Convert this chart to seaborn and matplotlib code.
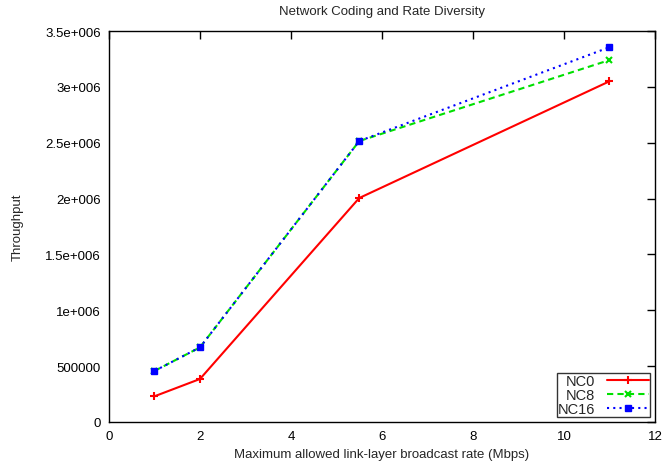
import matplotlib
matplotlib.use("Agg")
import matplotlib.pyplot as plt
import seaborn as sns
import pandas as pd

rates = [1, 2, 5.5, 11]
nc0 = [230000, 385000, 2005000, 3050000]
nc8 = [457000, 668000, 2515000, 3240000]
nc16 = [457000, 668000, 2515000, 3355000]
series_names = ["NC0", "NC8", "NC16"]
ytick_vals = [0, 500000, 1000000, 1500000, 2000000, 2500000, 3000000, 3500000]
ytick_labels = ["0", "500000", "1e+006", "1.5e+006", "2e+006", "2.5e+006", "3e+006", "3.5e+006"]
xtick_vals = [0, 2, 4, 6, 8, 10, 12]

sns.set_style("white")
plt.rcParams['font.family'] = ['Liberation Sans', 'DejaVu Sans']

fig = plt.figure(figsize=(6.67, 4.64), dpi=100)
ax = fig.add_axes([0.1634, 0.0884, 0.8186, 0.8426])

styles = [
    dict(color="#ff0000", linestyle="-", marker="+", markersize=6, mew=1.5),
    dict(color="#00e000", linestyle=(0, (3, 2)), marker="x", markersize=5, mew=1.5),
    dict(color="#0000ff", linestyle=(0, (1, 2)), marker="s", markersize=5, mew=1),
]
for name, vals, st in zip(series_names, [nc0, nc8, nc16], styles):
    df = pd.DataFrame({"rate": rates, "thr": vals})
    sns.lineplot(data=df, x="rate", y="thr", ax=ax, label=name, linewidth=1.5,
                 color=st["color"], linestyle=st["linestyle"], marker=st["marker"],
                 markersize=st["markersize"], markeredgewidth=st["mew"],
                 markeredgecolor=st["color"])

ax.set_xlim(0, 12)
ax.set_ylim(0, 3500000)
ax.set_xticks(xtick_vals)
ax.set_xticklabels([str(v) for v in xtick_vals])
ax.set_yticks(ytick_vals)
ax.set_yticklabels(ytick_labels)
ax.tick_params(direction="in", length=6, width=1, top=True, right=True,
               labelsize=9.5, colors="black", pad=6)
for s in ax.spines.values():
    s.set_visible(True)
    s.set_color("black")
    s.set_linewidth(1)

ax.set_xlabel("Maximum allowed link-layer broadcast rate (Mbps)", fontsize=9.5, labelpad=4)
ax.set_ylabel("Throughput", fontsize=9.5, labelpad=15)
ax.set_title("Network Coding and Rate Diversity", fontsize=9.5, pad=12)

leg = ax.legend(loc="lower right", markerfirst=False, frameon=True, fancybox=False,
                edgecolor="black", fontsize=10.5, handlelength=2.9, borderpad=0.05,
                labelspacing=0.0, handletextpad=0.8, borderaxespad=0.35)
leg.get_frame().set_linewidth(1)
for t in leg.get_texts():
    t.set_ha("right")

fig.savefig("out.png", dpi=100)
